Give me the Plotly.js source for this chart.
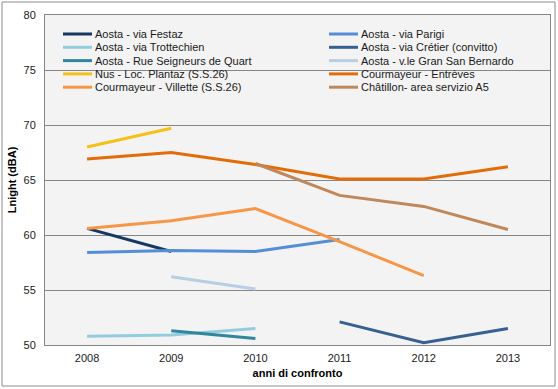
<!DOCTYPE html>
<html>
<head>
<meta charset="utf-8">
<script src="https://cdn.plot.ly/plotly-3.0.1.min.js"></script>
<style>
html,body{margin:0;padding:0;background:#fff;}
#chart{width:558px;height:389px;}
</style>
</head>
<body>
<div id="chart"></div>
<script>
const years = ['2008','2009','2010','2011','2012','2013'];
const names = [
  'Aosta - via Festaz',
  'Aosta - via Parigi',
  'Aosta - via Trottechien',
  'Aosta - via Crétier (convitto)',
  'Aosta - Rue Seigneurs de Quart',
  'Aosta - v.le Gran San Bernardo',
  'Nus - Loc. Plantaz (S.S.26)',
  'Courmayeur - Entrèves',
  'Courmayeur - Villette (S.S.26)',
  'Châtillon- area servizio A5'
];
const festaz      = [60.6, 58.5, null, null, null, null];
const parigi      = [58.4, 58.6, 58.5, 59.6, null, null];
const trottechien = [50.8, 50.9, 51.5, null, null, null];
const cretier     = [null, null, null, 52.1, 50.2, 51.5];
const seigneurs   = [null, 51.3, 50.6, null, null, null];
const granSB      = [null, 56.2, 55.1, null, null, null];
const nus         = [68.0, 69.7, null, null, null, null];
const entreves    = [66.9, 67.5, 66.4, 65.1, 65.1, 66.2];
const villette    = [60.6, 61.3, 62.4, 59.4, 56.3, null];
const chatillon   = [null, null, 66.5, 63.6, 62.6, 60.5];
const seriesValues = [festaz, parigi, trottechien, cretier, seigneurs, granSB, nus, entreves, villette, chatillon];
const colors = ['#17375E', '#558ED5', '#93CDDD', '#376092', '#31859C', '#B9CDE5', '#F5C018', '#E36C0A', '#F79646', '#C0875A'];

const traces = seriesValues.map((v, i) => ({
  type: 'scatter', mode: 'lines', x: years, y: v, name: names[i],
  line: {color: colors[i], width: 3}, connectgaps: false, showlegend: false, hoverinfo: 'x+y+name'
}));

// plot area in pixels: left 45, right 550, top 15, bottom 345
const L = 45, R = 550, T = 15, B = 345;
const px = x => (x - L) / (R - L);
const py = y => (B - y) / (B - T);

const shapes = [];
const annotations = [];
names.forEach((n, i) => {
  const col = i % 2, row = Math.floor(i / 2);
  const x0 = 63 + col * 266, y = 34 + row * 13.3;
  shapes.push({type: 'line', xref: 'paper', yref: 'paper', x0: px(x0), x1: px(x0 + 29), y0: py(y), y1: py(y),
    line: {color: colors[i], width: 3}});
  annotations.push({xref: 'paper', yref: 'paper', x: px(x0 + 30), y: py(y), text: n, showarrow: false,
    xanchor: 'left', yanchor: 'middle', font: {family: 'Liberation Sans, Arial, sans-serif', size: 11, color: '#1a1a1a'}});
});
// outer chart border
shapes.push({type: 'rect', xref: 'paper', yref: 'paper', x0: px(2), x1: px(555), y0: py(386), y1: py(2),
  line: {color: '#8c8c8c', width: 1}, fillcolor: 'rgba(0,0,0,0)', layer: 'below'});

const layout = {
  width: 558, height: 389,
  margin: {l: L, r: 558 - R, t: T, b: 389 - B},
  paper_bgcolor: '#ffffff',
  plot_bgcolor: '#f3f3f3',
  showlegend: false,
  font: {family: 'Liberation Sans, Arial, sans-serif', size: 11, color: '#1a1a1a'},
  xaxis: {
    type: 'category', range: [-0.5, 5.5], showgrid: false, zeroline: false,
    showline: true, linecolor: '#868686', linewidth: 1, mirror: true,
    ticks: 'outside', ticklen: 3, tickcolor: 'rgba(0,0,0,0)', tickfont: {size: 11, color: '#1a1a1a'},
    title: {text: 'anni di confronto', font: {size: 11, color: '#000', weight: 'bold'}, standoff: 6}
  },
  yaxis: {
    range: [50, 80], dtick: 5, showgrid: true, gridcolor: '#868686', gridwidth: 1, zeroline: false,
    showline: true, linecolor: '#868686', linewidth: 1, mirror: true,
    ticks: 'outside', ticklen: 6, tickcolor: 'rgba(0,0,0,0)', tickfont: {size: 11, color: '#1a1a1a'},
    title: {text: 'Lnight (dBA)', font: {size: 11, color: '#000', weight: 'bold'}, standoff: 4}
  },
  shapes: shapes,
  annotations: annotations
};

Plotly.newPlot('chart', traces, layout, {displayModeBar: false, staticPlot: true});
</script>
</body>
</html>
